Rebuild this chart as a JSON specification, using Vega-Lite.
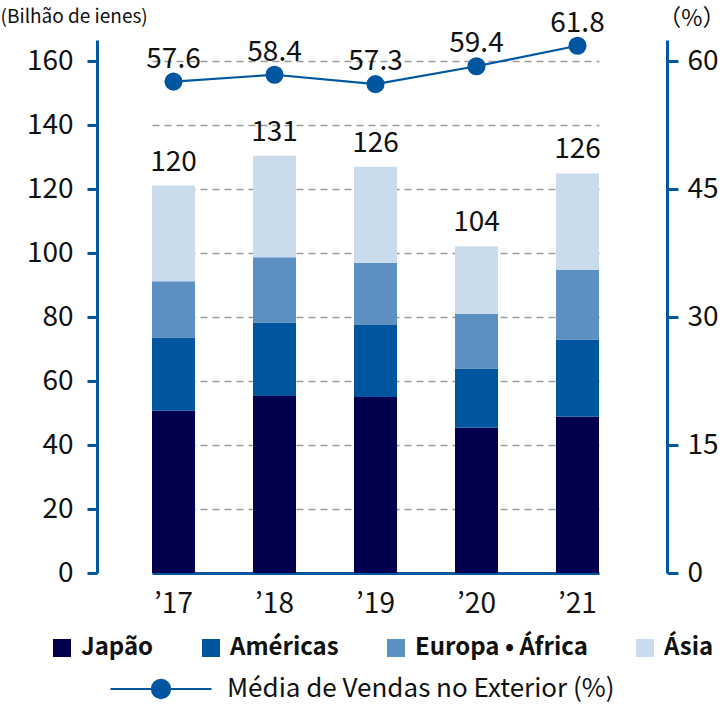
{
  "$schema": "https://vega.github.io/schema/vega-lite/v6.json",
  "autosize": "none",
  "width": 570,
  "height": 533,
  "padding": {"left": 97, "top": 40, "right": 59, "bottom": 131},
  "config": {
    "font": "Noto Sans CJK JP",
    "view": {"stroke": null},
    "axis": {"labelFont": "Noto Sans CJK JP", "titleFont": "Noto Sans CJK JP", "labelColor": "#111111", "titleColor": "#111111"},
    "legend": {"labelFont": "Noto Sans CJK JP", "labelColor": "#111111"}
  },
  "datasets": {
    "vendas": [
      {"ano": "’17", "regiao": "Japão", "valor": 50.8, "total": 120},
      {"ano": "’17", "regiao": "Américas", "valor": 22.8, "total": 120},
      {"ano": "’17", "regiao": "Europa • África", "valor": 17.6, "total": 120},
      {"ano": "’17", "regiao": "Ásia", "valor": 29.9, "total": 120},
      {"ano": "’18", "regiao": "Japão", "valor": 55.3, "total": 131},
      {"ano": "’18", "regiao": "Américas", "valor": 23.0, "total": 131},
      {"ano": "’18", "regiao": "Europa • África", "valor": 20.4, "total": 131},
      {"ano": "’18", "regiao": "Ásia", "valor": 31.7, "total": 131},
      {"ano": "’19", "regiao": "Japão", "valor": 55.0, "total": 126},
      {"ano": "’19", "regiao": "Américas", "valor": 22.5, "total": 126},
      {"ano": "’19", "regiao": "Europa • África", "valor": 19.4, "total": 126},
      {"ano": "’19", "regiao": "Ásia", "valor": 30.1, "total": 126},
      {"ano": "’20", "regiao": "Japão", "valor": 45.4, "total": 104},
      {"ano": "’20", "regiao": "Américas", "valor": 18.5, "total": 104},
      {"ano": "’20", "regiao": "Europa • África", "valor": 17.1, "total": 104},
      {"ano": "’20", "regiao": "Ásia", "valor": 21.1, "total": 104},
      {"ano": "’21", "regiao": "Japão", "valor": 48.9, "total": 126},
      {"ano": "’21", "regiao": "Américas", "valor": 24.1, "total": 126},
      {"ano": "’21", "regiao": "Europa • África", "valor": 21.7, "total": 126},
      {"ano": "’21", "regiao": "Ásia", "valor": 30.2, "total": 126}
    ],
    "media": [
      {"ano": "’17", "pct": 57.6},
      {"ano": "’18", "pct": 58.4},
      {"ano": "’19", "pct": 57.3},
      {"ano": "’20", "pct": 59.4},
      {"ano": "’21", "pct": 61.8}
    ]
  },
  "encoding": {
    "x": {
      "field": "ano",
      "type": "ordinal",
      "sort": null,
      "scale": {"range": [55, 502], "paddingInner": 0.574, "paddingOuter": 0},
      "axis": {
        "title": null,
        "domainColor": "#0056a0",
        "domainWidth": 3,
        "ticks": false,
        "labelAngle": 0,
        "labelFontSize": 28,
        "labelPadding": 17
      }
    }
  },
  "layer": [
    {
      "data": {"name": "vendas"},
      "layer": [
        {
          "transform": [
            {"calculate": "indexof(['Japão', 'Américas', 'Europa • África', 'Ásia'], datum.regiao)", "as": "ordem"}
          ],
          "mark": {"type": "bar"},
          "encoding": {
            "y": {
              "field": "valor",
              "type": "quantitative",
              "stack": "zero",
              "scale": {"domain": [0, 166.6], "nice": false, "zero": true},
              "axis": {
                "title": "(Bilhão de ienes)",
                "titleAngle": 0,
                "titleAlign": "left",
                "titleBaseline": "middle",
                "titleX": -97,
                "titleY": -24,
                "titleFontSize": 19,
                "titleFontWeight": "normal",
                "values": [0, 20, 40, 60, 80, 100, 120, 140, 160],
                "grid": true,
                "gridColor": "#9a9a9a",
                "gridDash": [7, 5],
                "gridWidth": 1.5,
                "domainColor": "#0056a0",
                "domainWidth": 3,
                "tickColor": "#0056a0",
                "tickWidth": 3,
                "tickSize": 10,
                "labelFontSize": 28,
                "labelPadding": 14
              }
            },
            "order": {"field": "ordem", "type": "quantitative", "sort": "ascending"},
            "color": {
              "field": "regiao",
              "type": "nominal",
              "sort": ["Japão", "Américas", "Europa • África", "Ásia"],
              "scale": {
                "domain": ["Japão", "Américas", "Europa • África", "Ásia"],
                "range": ["#02004e", "#00569e", "#5b90c0", "#cadcec"]
              },
              "legend": {
                "title": null,
                "orient": "none",
                "legendX": -47,
                "legendY": 596,
                "direction": "horizontal",
                "columns": 4,
                "symbolType": "square",
                "symbolSize": 324,
                "symbolStrokeWidth": 0,
                "labelFontSize": 24,
                "labelFontWeight": "bold",
                "labelOffset": 7,
                "labelLimit": 300,
                "columnPadding": 45
              }
            }
          }
        },
        {
          "mark": {"type": "text", "baseline": "bottom", "dy": -9, "fontSize": 28, "color": "#111111"},
          "encoding": {
            "y": {
              "aggregate": "sum",
              "field": "valor",
              "type": "quantitative",
              "axis": {
                "title": "(Bilhão de ienes)",
                "titleAngle": 0,
                "titleAlign": "left",
                "titleBaseline": "middle",
                "titleX": -97,
                "titleY": -24,
                "titleFontSize": 19,
                "titleFontWeight": "normal",
                "values": [0, 20, 40, 60, 80, 100, 120, 140, 160],
                "grid": true,
                "gridColor": "#9a9a9a",
                "gridDash": [7, 5],
                "gridWidth": 1.5,
                "domainColor": "#0056a0",
                "domainWidth": 3,
                "tickColor": "#0056a0",
                "tickWidth": 3,
                "tickSize": 10,
                "labelFontSize": 28,
                "labelPadding": 14
              }
            },
            "text": {"field": "total", "type": "quantitative"}
          }
        }
      ]
    },
    {
      "data": {"name": "media"},
      "encoding": {
        "y": {
          "field": "pct",
          "type": "quantitative",
          "scale": {"domain": [0, 62.475], "nice": false, "zero": true},
          "axis": {
            "orient": "right",
            "title": "（%）",
            "titleAngle": 0,
            "titleAlign": "right",
            "titleBaseline": "middle",
            "titleX": 58,
            "titleY": -22,
            "titleFontSize": 23,
            "titleFontWeight": "normal",
            "values": [0, 15, 30, 45, 60],
            "grid": false,
            "domainColor": "#0056a0",
            "domainWidth": 3,
            "tickColor": "#0056a0",
            "tickWidth": 3,
            "tickSize": 11,
            "labelFontSize": 28,
            "labelPadding": 9
          }
        }
      },
      "layer": [
        {
          "mark": {"type": "line", "strokeWidth": 2.2},
          "encoding": {
            "stroke": {
              "datum": "Média de Vendas no Exterior (%)",
              "type": "nominal",
              "scale": {"range": ["#0056a0"]},
              "legend": {
                "title": null,
                "orient": "none",
                "legendX": 12,
                "legendY": 597,
                "symbolType": "M-1,0L-0.18,0M0.18,0L1,0M0.18,0A0.18,0.18,0,1,1,-0.18,0A0.18,0.18,0,1,1,0.18,0Z",
                "symbolSize": 10201,
                "symbolFillColor": "#0056a0",
                "symbolStrokeColor": "#0056a0",
                "symbolStrokeWidth": 2.2,
                "labelFontSize": 26,
                "labelFontWeight": "normal",
                "labelOffset": 14,
                "labelLimit": 500
              }
            }
          }
        },
        {
          "mark": {"type": "point", "filled": true, "size": 260, "opacity": 1, "fill": "#0056a0"},
          "encoding": {
            "stroke": {
              "datum": "Média de Vendas no Exterior (%)",
              "type": "nominal",
              "scale": {"range": ["#0056a0"]},
              "legend": {
                "title": null,
                "orient": "none",
                "legendX": 12,
                "legendY": 597,
                "symbolType": "M-1,0L-0.18,0M0.18,0L1,0M0.18,0A0.18,0.18,0,1,1,-0.18,0A0.18,0.18,0,1,1,0.18,0Z",
                "symbolSize": 10201,
                "symbolFillColor": "#0056a0",
                "symbolStrokeColor": "#0056a0",
                "symbolStrokeWidth": 2.2,
                "labelFontSize": 26,
                "labelFontWeight": "normal",
                "labelOffset": 14,
                "labelLimit": 500
              }
            }
          }
        },
        {
          "mark": {"type": "text", "baseline": "bottom", "dy": -8, "fontSize": 28, "color": "#111111"},
          "encoding": {
            "text": {"field": "pct", "type": "quantitative", "format": ".1f"}
          }
        }
      ]
    }
  ],
  "resolve": {"scale": {"y": "independent"}}
}
